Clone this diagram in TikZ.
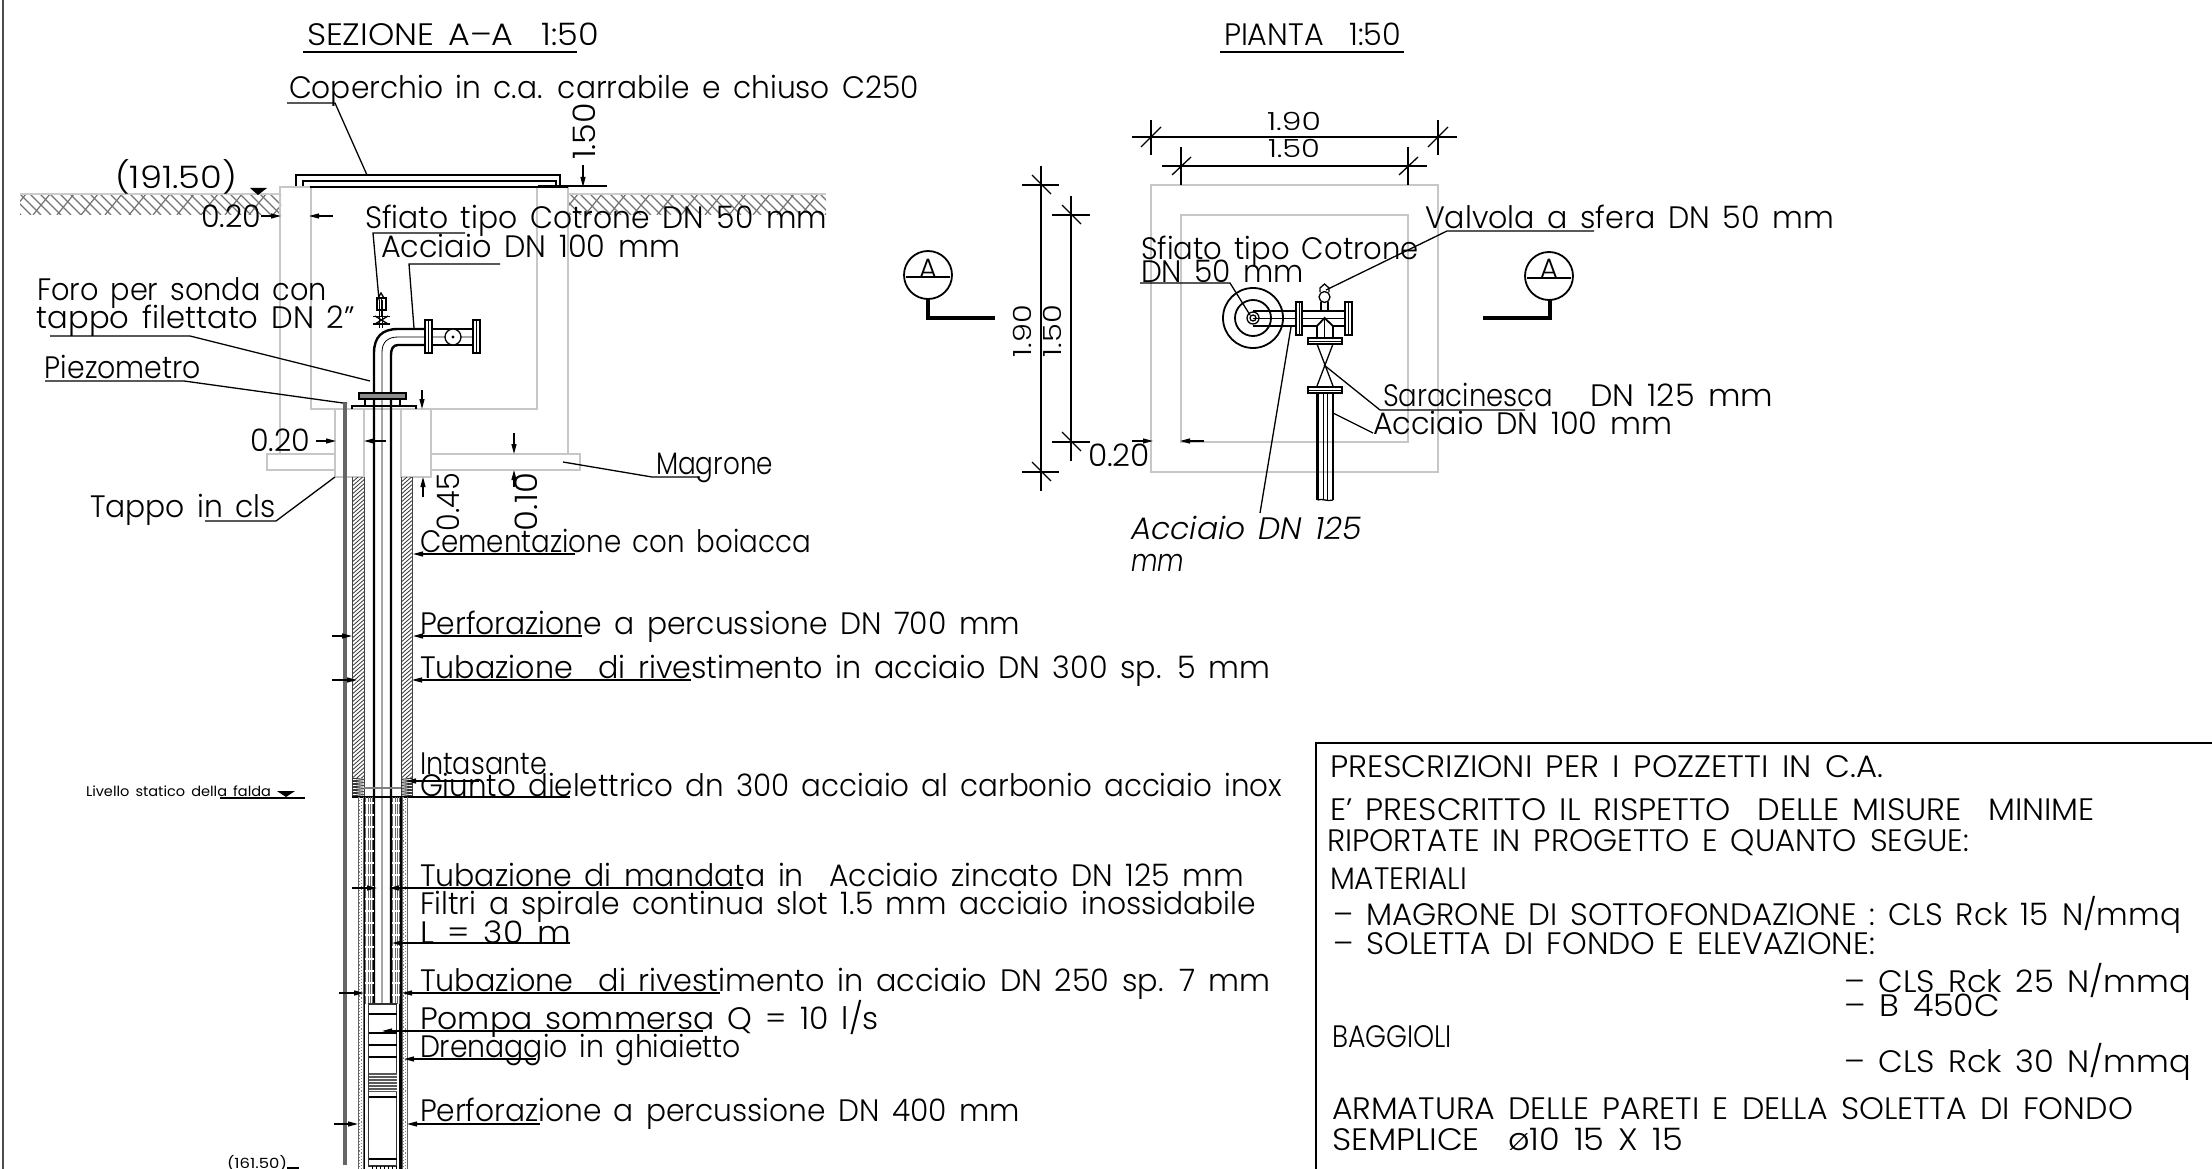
\documentclass[tikz,border=0pt]{standalone}
\usepackage{graphicx}
\usepackage{fontspec}
\setmainfont{Poppins}[UprightFont=* Light,ItalicFont=* Light Italic]
\newfontfamily\smallb{Poppins}
\usetikzlibrary{arrows.meta}
\newsavebox\fitbx
\newcommand\fit[2]{\spaceskip=.42em\relax\sbox\fitbx{#2}\pgfmathsetmacro\fitr{#1/(\wd\fitbx)}\scalebox{\fitr}[1]{\usebox\fitbx}}
\newcommand\T[6][]{\node[txt,#1] (#2) at (#3,#4) {\fit{#5}{#6}};}
\tikzset{
 txt/.style={inner sep=0pt,outer sep=0pt,anchor=base west,text=black,yshift=-1pt,font=\fontsize{31}{31}\selectfont},
 dimsmall/.style={font=\fontsize{25}{25}\selectfont},
 marka/.style={font=\fontsize{28}{28}\selectfont},
 tiny/.style={font=\fontsize{14}{14}\selectfont\smallb},
 lead/.style={draw=black,line width=1.3pt},
 thin1/.style={draw=black,line width=.8pt},
 heavy/.style={draw=black,line width=2.4pt},
 greybox/.style={draw=black!22,line width=1.8pt},
 arr/.style={lead,-{Stealth[length=10pt,width=5pt,inset=0pt]}},
 hatchl/.style={draw=black!80,line width=.8pt},
 groundl/.style={draw=black!55,line width=1.2pt},
}
\begin{document}
\begin{tikzpicture}[x=1pt,y=-1pt]
\useasboundingbox[fill=white] (0,0) rectangle (2212,1169);
% page border
\draw[draw=black!70,line width=1.8pt] (3,0) -- (3,1169);
% ground
\begin{scope}
\clip (20,194) rectangle (281,215) (567,194) rectangle (826,215);
\foreach \x in {0,10,...,840}{\draw[groundl] (\x,194) -- (\x+21,215);}
\foreach \x in {26,50,...,850}{\draw[groundl] (\x,194) -- (\x-17,215);}
\end{scope}
\draw[draw=black!20,line width=1.6pt] (20,194) -- (281,194) (567,194) -- (826,194);
% grey structure, section
\draw[greybox] (280,454) -- (280,187) -- (568,187) -- (568,454);
\draw[greybox] (311,187) -- (311,409) -- (537,409) -- (537,187);
\draw[greybox] (335,454) -- (267,454) -- (267,470) -- (335,470);
\draw[greybox] (431,454) -- (580,454) -- (580,470) -- (431,470);
\draw[greybox] (335,409) -- (335,477) -- (364,477) -- (364,409);
\draw[greybox] (401,409) -- (401,477) -- (431,477) -- (431,409);
% cover
\draw[heavy,line width=1.8pt] (296,186) -- (296,175) -- (560,175) -- (560,186);
\draw[lead] (303,186) -- (303,181) -- (556,181) -- (556,186);
\draw[heavy,line width=2pt] (310,187) -- (568,187);
\draw[heavy,line width=3pt] (538,187) -- (568,187);
\draw[lead] (568,186) -- (607,186);
% title
\T{titleA}{307}{45}{292}{SEZIONE A–A \ 1:50}
\draw[lead] (303,52) -- (577,52);
\T{coper}{289}{98}{630}{Coperchio in c.a. carrabile e chiuso C250}
\draw[lead] (287,103) -- (335,103) -- (367,175);
% levels
\T{quota}{115}{188}{122}{(191.50)}
\fill[black] (250,188) -- (267,188) -- (258,195) -- cycle;
\T{dimA}{201}{227}{60}{0.20}
\draw[arr] (261,216) -- (281,216);
\draw[arr] (333,216) -- (309,216);
\T{sfiato}{365}{228}{462}{Sfiato tipo Cotrone DN 50 mm}
\draw[lead] (465,233) -- (373,233) -- (379,300);
\T{acc}{381}{257}{299}{Acciaio DN 100 mm}
\draw[lead] (500,264) -- (409,264) -- (414,328);
\T{foroa}{37}{300}{290}{Foro per sonda con}
\T{forob}{37}{327}{318}{tappo filettato DN 2”}
\draw[lead] (50,336) -- (190,336) -- (370,381);
\T{piezo}{45}{377}{156}{Piezometro}
\draw[lead] (45,381) -- (184,381) -- (343,403) -- (347,403);
\T{dimB}{250}{450}{60}{0.20}
\draw[arr] (316,441) -- (336,441);
\draw[arr] (386,441) -- (364,441);
\T[rotate=90]{dimC}{595}{159}{57}{1.50}
\draw[arr] (583,165) -- (583,187);
\draw[arr] (422,390) -- (422,409);
\draw[arr] (423,497) -- (423,477);
\T[rotate=90]{dimD}{459}{530}{58}{0.45}
\T[rotate=90]{dimE}{537}{530}{58}{0.10}
\draw[arr] (514,433) -- (514,454);
\draw[arr] (514,487) -- (514,470);
\T{magr}{656}{473}{117}{Magrone}
\draw[lead] (700,477) -- (652,477) -- (563,462);
\T{tappo}{90}{516}{186}{Tappo in cls}
\draw[lead] (205,521) -- (276,521) -- (335,477);
% piezometer
\draw[draw=black!60,line width=3.5pt] (345,403) -- (345,1165);
% flange and elbow
\draw[heavy] (374,1004) -- (374,353) .. controls (374,337) and (382,329) .. (398,329) -- (425,329);
\draw[heavy] (391,1004) -- (391,355) .. controls (391,349) and (393,345) .. (398,345) -- (425,345);
\draw[thin1] (382,1004) -- (382,352) .. controls (382,342) and (388,337) .. (398,337) -- (473,337);
\draw[heavy,line width=1.8pt] (432,329) -- (473,329) (432,345) -- (473,345);
\draw[lead,fill=white] (425,320) rectangle (432,353);
\draw[thin1] (428.5,320) -- (428.5,353);
\draw[lead,fill=white] (473,320) rectangle (480,353);
\draw[thin1] (476.5,320) -- (476.5,353);
\draw[lead,fill=white] (453,337) circle (8);
\fill[black] (453,337) circle (1.6);
\draw[lead,fill=black!45] (359,393) rectangle (406,399);
\draw[lead] (365,399) -- (365,405) (400,399) -- (400,405);
\draw[lead] (352,409) -- (352,406) -- (416,406) -- (416,409);
% small valve
\draw[thin1] (379,300) -- (379,328) (382,300) -- (382,328);
\draw[lead] (377,298) rectangle (386,310);
\draw[thin1] (381.5,298) -- (381.5,316);
\draw[lead] (378,298) -- (381,293) -- (384,298);
\draw[heavy,line width=1.8pt] (373,316.5) -- (390,316.5) (373,324) -- (390,324);
\draw[lead] (375,316) -- (388,324) (388,316) -- (375,324);
% cement
\begin{scope}
\clip (352,477) rectangle (364,778) (401,477) rectangle (412.5,778);
\foreach \y in {470,474,...,790}{\draw[hatchl] (350,\y+14) -- (366,\y) (399,\y+14) -- (415,\y);}
\end{scope}
\draw[thin1,draw=black!75] (352,477) -- (352,797) (364,477) -- (364,797) (401,477) -- (401,797) (412.5,477) -- (412.5,797);
% giunto
\begin{scope}
\clip (352,778) rectangle (364,797) (401,778) rectangle (412.5,797);
\foreach \y in {772,775,...,802}{\draw[hatchl,line width=.9pt] (350,\y) -- (415,\y+6) (350,\y+6) -- (415,\y);}
\end{scope}
\draw[draw=black!50,line width=1.2pt] (364,788) -- (401,788);
\draw[heavy,line width=1.8pt] (352,797) -- (412.5,797);
% filter and gravel bands
\foreach \a/\b in {365.5/373,392.5/400}{
 \foreach \x in {0,2.4,...,7.5}{\draw[draw=black!60,line width=.7pt] (\a+\x,797) -- (\a+\x,1004);}
 \foreach \y in {803,815,...,1000}{\draw[draw=white,line width=1.6pt] (\a-.5,\y) -- (\b+.5,\y);}
}
\foreach \a in {358,402}{
 \draw[draw=black!60,line width=.7pt] (\a,797) -- (\a,1169) (\a+5,797) -- (\a+5,1169);
 \draw[draw=black!50,line width=1.1pt,dotted] (\a+1.8,797) -- (\a+1.8,1169) (\a+3.6,799) -- (\a+3.6,1169);
}
\draw[lead] (364.5,797) -- (364.5,1169) (401,797) -- (401,1169);
\draw[thin1] (399,1004) -- (399,1169);
% pump
\draw[lead,draw=black!80] (368.5,1004) -- (368.5,1166) -- (396.5,1166) -- (396.5,1004) -- cycle;
\draw[lead] (368.5,1014) -- (396.5,1014) (368.5,1033) -- (396.5,1033) (368.5,1045) -- (396.5,1045) (368.5,1057) -- (396.5,1057) (368.5,1097) -- (396.5,1097) (368.5,1159) -- (396.5,1159);
\fill[black!65] (368.5,1073) rectangle (396.5,1092);
\foreach \y in {1075,1078,...,1091}{\draw[draw=white,line width=.5pt] (368.5,\y) -- (396.5,\y);}
\foreach \x in {372,376,...,396}{\draw[thin1] (\x,1166) -- (\x,1169);}
% leaders to the right
\T{cem}{420}{551}{391}{Cementazione con boiacca}
\draw[arr] (575,554) -- (413,554);
\T{perfa}{420}{633}{600}{Perforazione a percussione DN 700 mm}
\draw[arr] (582,636) -- (413,636);
\draw[arr] (332,636) -- (352,636);
\T{tuba}{420}{677}{850}{Tubazione \ di rivestimento in acciaio DN 300 sp. 5 mm}
\draw[arr] (691,680) -- (412,680);
\draw[arr] (332,680) -- (357,680);
\T{intas}{420}{773}{127}{Intasante}
\T{giunto}{420}{795}{862}{Giunto dielettrico dn 300 acciaio al carbonio acciaio inox}
\draw[arr] (479,781) -- (406,781);
\draw[lead] (570,797) -- (410,797);
\node[txt,tiny] (livtxt) at (86,795) {\fit{185}{Livello statico della falda}};
\draw[heavy,line width=1.8pt] (220,798) -- (305,798);
\fill[black] (277,791) -- (295,791) -- (286,797) -- cycle;
\T{tubm}{420}{885}{824}{Tubazione di mandata in \ Acciaio zincato DN 125 mm}
\draw[arr] (743,888) -- (389,888);
\draw[arr] (352,888) -- (377,888);
\T{filt}{420}{913}{836}{Filtri a spirale continua slot 1.5 mm acciaio inossidabile}
\T{elle}{420}{942}{151}{L = 30 m}
\draw[arr] (570,943) -- (392,943);
\T{tubb}{420}{990}{850}{Tubazione \ di rivestimento in acciaio DN 250 sp. 7 mm}
\draw[arr] (720,993) -- (402,993);
\draw[arr] (339,993) -- (364,993);
\T{pompa}{420}{1028}{459}{Pompa sommersa Q = 10 l/s}
\draw[arr] (703,1031) -- (382,1031);
\T{dren}{420}{1056}{321}{Drenaggio in ghiaietto}
\draw[arr] (536,1059) -- (404,1059);
\T{perfb}{420}{1120}{600}{Perforazione a percussione DN 400 mm}
\draw[arr] (540,1124) -- (407,1124);
\draw[arr] (334,1124) -- (358,1124);
\node[txt,tiny] (quob) at (227,1167) {\fit{60}{(161.50)}};
\draw[lead] (287,1168) -- (299,1168);
% PLAN
\T{titleB}{1224}{45}{177}{PIANTA \ 1:50}
\draw[lead] (1220,52) -- (1404,52);
\draw[greybox] (1151,185) rectangle (1438,472);
\draw[greybox] (1181,215) rectangle (1408,442);
% dims horizontal
\draw[lead] (1132,137) -- (1457,137);
\draw[lead] (1151,120) -- (1151,155) (1438,120) -- (1438,155);
\draw[lead] (1141,147) -- (1161,127) (1428,147) -- (1448,127);
\draw[lead] (1162,166) -- (1427,166);
\draw[lead] (1181,147) -- (1181,185) (1408,147) -- (1408,185);
\draw[lead] (1172,175) -- (1191,157) (1399,175) -- (1418,157);
\T[dimsmall]{pa}{1267}{130}{54}{1.90}
\T[dimsmall]{pb}{1268}{157}{52}{1.50}
% dims vertical
\draw[lead] (1041,166) -- (1041,491);
\draw[lead] (1022,185) -- (1059,185) (1022,472) -- (1059,472);
\draw[lead] (1032,175) -- (1051,194) (1032,462) -- (1051,481);
\draw[lead] (1071,196) -- (1071,461);
\draw[lead] (1052,215) -- (1090,215) (1052,442) -- (1090,442);
\draw[lead] (1062,205) -- (1081,224) (1062,432) -- (1081,451);
\T[dimsmall,rotate=90]{pc}{1031}{356}{52}{1.90}
\T[dimsmall,rotate=90]{pd}{1061}{356}{52}{1.50}
\T{pe}{1088}{465}{62}{0.20}
\draw[arr] (1132,441) -- (1153,441);
\draw[arr] (1204,441) -- (1180,441);
% section marks
\draw[draw=black,line width=1.8pt] (928,275) circle (24);
\draw[lead] (906,277) -- (950,277);
\node[txt,marka,anchor=base] (aL) at (928,277) {A};
\draw[draw=black,line width=4pt] (928,299) -- (928,318) -- (995,318);
\draw[draw=black,line width=1.8pt] (1549,276) circle (24);
\draw[lead] (1527,278) -- (1571,278);
\node[txt,marka,anchor=base] (aR) at (1549,278) {A};
\draw[draw=black,line width=4pt] (1550,300) -- (1550,318) -- (1483,318);
% plan piping
\draw[draw=black,line width=1.8pt] (1253,318) circle (30);
\draw[draw=black,line width=1.8pt] (1253,318) circle (18);
\draw[lead] (1253,318) circle (6) (1253,318) circle (3);
\draw[heavy] (1253,311) -- (1296,311) (1253,326) -- (1296,326);
\draw[thin1] (1253,318) -- (1344,318);
\draw[heavy] (1302,311) -- (1344,311) (1302,326) -- (1317,326) (1333,326) -- (1344,326);
\draw[lead,fill=white] (1296,302) rectangle (1302,335);
\draw[thin1] (1299,302) -- (1299,335);
\draw[lead,fill=white] (1345,302) rectangle (1352,335);
\draw[thin1] (1348.5,302) -- (1348.5,335);
\draw[lead] (1321,310) -- (1321,302) (1328,310) -- (1328,302);
\draw[lead,fill=white] (1324.5,297) circle (5.5);
\draw[lead] (1320,292) -- (1320,288) -- (1324.5,284) -- (1329,288) -- (1329,292);
\draw[heavy,line width=1.8pt] (1317,338) -- (1317,326) -- (1324.5,318) -- (1333,326) -- (1333,338);
\draw[thin1] (1324.5,318) -- (1324.5,338);
\draw[lead] (1308,338) rectangle (1342,344);
\draw[thin1] (1308,341) -- (1342,341);
\draw[lead] (1317,344) -- (1333,386) (1333,344) -- (1317,386);
\draw[lead] (1308,387) rectangle (1342,393);
\draw[thin1] (1308,390) -- (1342,390);
\draw[heavy] (1317.5,393) -- (1317.5,500) (1333,393) -- (1333,500);
\draw[thin1] (1323,393) -- (1323,500) (1327,393) -- (1327,500);
\draw[lead] (1317.5,500) .. controls (1322,498) and (1328,502) .. (1333,500);
% plan labels
\T{psfa}{1141}{259}{278}{Sfiato tipo Cotrone}
\T{psfb}{1141}{281}{163}{DN 50 mm}
\draw[lead] (1140,283) -- (1230,283) -- (1250,315);
\T{pval}{1425}{228}{409}{Valvola a sfera DN 50 mm}
\draw[lead] (1594,231) -- (1447,231) -- (1326,290);
\T{psar}{1383}{405}{170}{Saracinesca}
\T{psarb}{1590}{405}{183}{DN 125 mm}
\draw[lead] (1525,410) -- (1380,410) -- (1324,365);
\T{pacc}{1373}{433}{299}{Acciaio DN 100 mm}
\draw[lead] (1373,433) -- (1333,413);
\T[font={\fontsize{31}{31}\selectfont\itshape}]{pitala}{1131}{538}{231}{Acciaio DN 125}
\T[font={\fontsize{31}{31}\selectfont\itshape}]{pitalb}{1131}{570}{53}{mm}
\draw[lead] (1260,513) -- (1291,327);
% prescriptions
\draw[draw=black,line width=2pt] (2212,743) -- (1316,743) -- (1316,1169);
\T{ra}{1330}{776}{553}{PRESCRIZIONI PER I POZZETTI IN C.A.}
\T{rb}{1330}{819}{765}{E' PRESCRITTO IL RISPETTO \ DELLE MISURE \ MINIME}
\T{rc}{1327}{850}{642}{RIPORTATE IN PROGETTO E QUANTO SEGUE:}
\T{rd}{1330}{888}{137}{MATERIALI}
\T{re}{1333}{924}{848}{–\kern13pt MAGRONE DI SOTTOFONDAZIONE : CLS Rck 15 N/mmq}
\T{rf}{1333}{953}{542}{–\kern13pt SOLETTA DI FONDO E ELEVAZIONE:}
\T{rg}{1844}{991}{347}{–\kern13pt CLS Rck 25 N/mmq}
\T{rh}{1844}{1015}{156}{–\kern13pt B 450C}
\T{ri}{1332}{1046}{120}{BAGGIOLI}
\T{rj}{1844}{1071}{347}{–\kern13pt CLS Rck 30 N/mmq}
\T{rk}{1332}{1118}{801}{ARMATURA DELLE PARETI E DELLA SOLETTA DI FONDO}
\T{rl}{1332}{1149}{351}{SEMPLICE \ ø10 15 X 15}
\end{tikzpicture}
\end{document}
